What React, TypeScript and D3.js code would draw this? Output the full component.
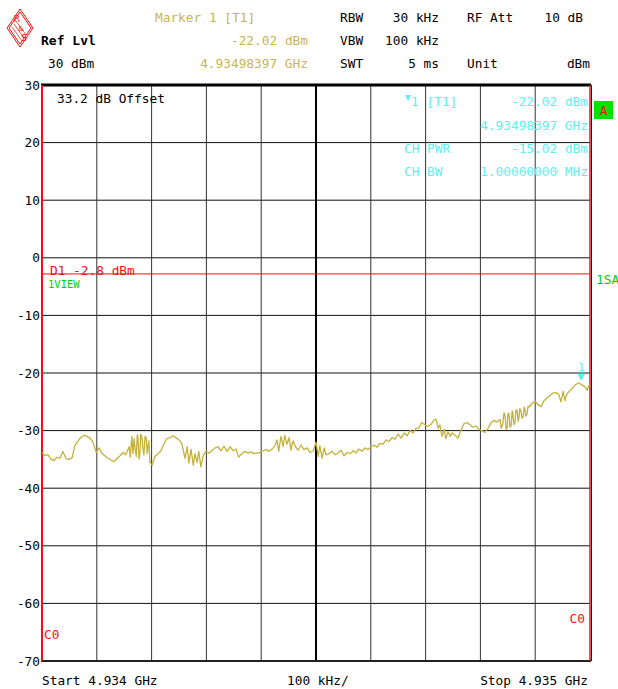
import React from "react";
import * as d3 from "d3";

// Sweep: 4.934 GHz .. 4.935 GHz, offsets in kHz from start
const spanKHz: [number, number] = [0, 1000];
const levelRange: [number, number] = [-70, 30];
const levelTicks = [30, 20, 10, 0, -10, -20, -30, -40, -50, -60, -70];
const freqDivisions = 10;

// Trace 1: [offset kHz, level dBm]
const trace: [number, number][] = [
  [0, -33.8], [5, -34.3], [11, -34.2], [16, -34.9], [22, -35.2], [27, -34.6], [33, -34.8], [38, -33.6],
  [44, -34.9], [49, -35.0], [55, -34.7], [60, -32.6], [66, -31.8], [71, -31.2], [77, -30.8], [82, -31.0],
  [88, -31.3], [93, -32.0], [99, -33.8], [104, -33.0], [109, -33.9], [115, -34.4], [120, -34.8], [126, -35.1],
  [131, -35.4], [137, -34.8], [142, -34.4], [148, -33.8], [153, -34.2], [159, -32.8], [161, -34.6], [164, -31.0],
  [166, -34.0], [168, -31.4], [170, -33.2], [172, -34.5], [174, -30.7], [175, -31.0], [177, -34.9], [179, -33.8],
  [180, -30.6], [182, -30.9], [184, -33.0], [186, -34.2], [188, -31.0], [190, -31.2], [192, -34.0], [193, -33.0],
  [195, -31.8], [197, -35.5], [201, -36.0], [206, -34.5], [212, -34.0], [217, -33.5], [223, -32.2], [228, -31.4],
  [234, -31.2], [239, -30.9], [245, -31.3], [250, -31.6], [255, -32.2], [261, -34.8], [265, -32.8], [268, -35.6],
  [272, -33.2], [276, -36.0], [279, -34.0], [283, -35.5], [286, -33.6], [290, -36.3], [294, -34.4], [299, -33.6],
  [305, -33.9], [310, -33.5], [316, -33.0], [321, -32.8], [327, -33.5], [332, -32.7], [338, -33.6], [343, -32.8],
  [349, -33.5], [354, -33.2], [359, -34.6], [365, -34.0], [370, -33.6], [376, -33.9], [381, -33.7], [387, -34.0],
  [392, -33.9], [398, -33.8], [403, -33.5], [409, -33.3], [414, -33.6], [420, -33.2], [425, -32.6], [429, -31.6],
  [432, -33.6], [436, -31.0], [440, -32.8], [443, -30.8], [447, -32.4], [451, -31.2], [454, -33.4], [458, -31.8],
  [462, -32.7], [467, -33.4], [473, -32.5], [478, -33.3], [484, -33.0], [489, -33.8], [495, -33.5], [500, -32.0],
  [504, -34.5], [507, -32.6], [511, -34.8], [515, -33.0], [518, -34.2], [524, -34.0], [529, -33.6], [535, -34.2],
  [540, -33.9], [546, -33.4], [551, -34.4], [557, -33.8], [562, -34.0], [568, -33.5], [573, -33.9], [578, -33.2],
  [584, -33.6], [589, -33.0], [595, -33.3], [600, -32.8], [606, -32.5], [611, -32.9], [617, -32.2], [622, -32.4],
  [628, -31.6], [633, -31.9], [639, -31.2], [644, -31.5], [650, -30.6], [655, -31.3], [661, -30.4], [666, -30.9],
  [672, -30.0], [677, -30.4], [682, -29.7], [688, -29.5], [693, -28.6], [699, -29.0], [704, -29.3], [710, -28.9],
  [715, -28.2], [719, -28.0], [723, -29.6], [726, -29.0], [730, -31.0], [734, -29.8], [737, -31.4], [741, -30.2],
  [745, -31.0], [748, -30.4], [754, -30.8], [759, -31.3], [765, -29.8], [770, -28.8], [776, -28.6], [781, -29.0],
  [786, -29.4], [792, -29.2], [797, -29.8], [803, -30.0], [808, -30.3], [814, -29.6], [819, -28.7], [825, -28.2],
  [830, -28.5], [836, -28.1], [838, -29.6], [841, -28.8], [843, -26.9], [845, -27.4], [847, -29.8], [849, -29.5],
  [850, -27.2], [852, -27.0], [854, -29.4], [856, -29.2], [858, -26.6], [859, -26.8], [861, -29.0], [863, -28.6],
  [865, -26.4], [867, -26.5], [869, -28.4], [870, -28.0], [872, -26.2], [874, -26.6], [876, -27.9], [878, -27.6],
  [880, -25.9], [881, -26.2], [883, -27.5], [885, -27.2], [887, -25.8], [889, -25.9], [894, -25.3], [900, -24.9],
  [905, -25.5], [911, -25.8], [916, -24.8], [922, -24.3], [927, -23.9], [932, -23.5], [938, -23.4], [943, -23.7],
  [947, -25.0], [951, -23.2], [954, -24.8], [958, -23.6], [963, -23.1], [969, -22.5], [974, -22.0], [980, -21.7],
  [984, -22.02], [991, -22.4], [995, -23.0], [998, -22.1], [1000, -22.3],
];

// Marker 1 and display line D1
const markerKHz = 983.97;
const markerDbm = -22.02;
const displayLineDbm = -2.8;

const headerLeft = [
  { text: "Marker 1 [T1]", row: 0 },
  { text: "-22.02 dBm", row: 1 },
  { text: "4.93498397 GHz", row: 2 },
];
const headerSettings = [
  { label: "RBW", value: "30 kHz", label2: "RF Att", value2: "10 dB" },
  { label: "VBW", value: "100 kHz", label2: "", value2: "" },
  { label: "SWT", value: "5 ms", label2: "Unit", value2: "dBm" },
];
const markerInfo = [
  { left: "1 [T1]", right: "-22.02 dBm" },
  { left: "", right: "4.93498397 GHz" },
  { left: "CH PWR", right: "-15.02 dBm" },
  { left: "CH BW", right: "1.00000000 MHz" },
];

const W = 618;
const H = 689;
const L = 42;
const R = 590;
const T = 85;
const B = 661;

const FONT = "'DejaVu Sans Mono', 'Liberation Mono', monospace";
const TRACE = "#c4b23a";
const GOLD = "#c8b455";
const CYAN = "#5ef0f0";
const RED = "#f01010";
const GREEN = "#00d000";

export default function App() {
  const x = d3.scaleLinear().domain(spanKHz).range([L, R]);
  const y = d3.scaleLinear().domain(levelRange).range([B, T]);
  const line = d3
    .line<[number, number]>()
    .x((d) => x(d[0]))
    .y((d) => y(d[1]));

  const vGrid = d3.range(1, freqDivisions).map((i) => (spanKHz[1] * i) / freqDivisions);
  const rowY = [17, 40, 63];
  const infoY = [101, 125, 148, 171];
  const mx = x(markerKHz);
  const my = y(markerDbm);

  return (
    <svg
      width={W}
      height={H}
      style={{ position: "absolute", left: 0, top: 0, background: "#fff" }}
      fontFamily={FONT}
      fontSize={12.8}
    >
      <rect x={0} y={0} width={W} height={H} fill="#fff" />

      {/* R&S logo */}
      <g stroke={RED} fill="none" strokeWidth={1}>
        <path d="M20,9 L33,28 L20,47 L7,28 Z" />
        <path d="M20,12 L31,28 L20,44 L9,28 Z" />
        <path d="M14,24 L24,38 M16,21 L26,35 M12,27 L22,41" strokeWidth={0.7} />
      </g>
      <g fill={RED} fontSize={9} textAnchor="middle" fontFamily="'DejaVu Sans', sans-serif">
        <text x={17} y={22}>R</text>
        <text x={21} y={31} fontSize={7}>&amp;</text>
        <text x={24} y={41}>S</text>
      </g>

      {/* Header */}
      <text x={41} y={rowY[1]} dominantBaseline="central" fill="#000" fontWeight="bold" fontSize={13}>
        Ref Lvl
      </text>
      <text x={48} y={rowY[2]} dominantBaseline="central" fill="#000">
        30 dBm
      </text>
      {headerLeft.map((h, i) => (
        <text
          key={i}
          x={h.row === 0 ? 155 : 308}
          y={rowY[h.row]}
          textAnchor={h.row === 0 ? "start" : "end"}
          dominantBaseline="central"
          fill={GOLD}
        >
          {h.text}
        </text>
      ))}
      {headerSettings.map((s, i) => (
        <g key={i} fill="#000">
          <text x={340} y={rowY[i]} dominantBaseline="central">{s.label}</text>
          <text x={439} y={rowY[i]} textAnchor="end" dominantBaseline="central">{s.value}</text>
          <text x={467} y={rowY[i]} dominantBaseline="central">{s.label2}</text>
          <text x={i === 2 ? 590 : 583} y={rowY[i]} textAnchor="end" dominantBaseline="central">
            {s.value2}
          </text>
        </g>
      ))}

      {/* Grid */}
      <g stroke="#111" strokeWidth={1}>
        {levelTicks.slice(1, -1).map((v) => (
          <line key={v} x1={L} x2={R} y1={y(v)} y2={y(v)} />
        ))}
        {vGrid.map((f) => (
          <line
            key={f}
            x1={x(f)}
            x2={x(f)}
            y1={T}
            y2={B}
            strokeWidth={f === spanKHz[1] / 2 ? 2 : 1}
            stroke={f === spanKHz[1] / 2 ? "#000" : "#333"}
          />
        ))}
      </g>

      {/* Frame */}
      <line x1={L - 1} x2={R + 1} y1={T} y2={T} stroke="#000" strokeWidth={3} />
      <line x1={L - 1} x2={R + 1} y1={B} y2={B} stroke="#222" strokeWidth={2} />
      <line x1={R + 1.5} x2={R + 1.5} y1={T} y2={B} stroke="#000" strokeWidth={1} />
      {/* Channel borders C0 */}
      <line x1={L} x2={L} y1={T} y2={B} stroke={RED} strokeWidth={2} />
      <line x1={R} x2={R} y1={T} y2={B} stroke={RED} strokeWidth={1.5} />

      {/* Y tick labels */}
      {levelTicks.map((v) => (
        <text key={v} x={40} y={y(v)} textAnchor="end" dominantBaseline="central" fill="#000">
          {v}
        </text>
      ))}

      {/* Display line D1 */}
      <line x1={L} x2={R} y1={y(displayLineDbm)} y2={y(displayLineDbm)} stroke={RED} strokeWidth={1} />
      <text x={50} y={y(displayLineDbm) - 3} dominantBaseline="central" fill={RED}>
        D1 -2.8 dBm
      </text>
      <text x={48} y={y(displayLineDbm) + 10} dominantBaseline="central" fill={GREEN} fontSize={10.5}>
        1VIEW
      </text>
      <text x={596} y={y(displayLineDbm) + 6} dominantBaseline="central" fill={GREEN}>
        1SA
      </text>

      {/* Offset note */}
      <text x={57} y={98} dominantBaseline="central" fill="#000">
        33.2 dB Offset
      </text>

      {/* Trace */}
      <path d={line(trace) ?? ""} fill="none" stroke={TRACE} strokeWidth={1.3} strokeLinejoin="round" />

      {/* Marker 1 */}
      <path d={`M${mx - 4},${my - 11} L${mx + 4},${my - 11} L${mx},${my - 4} Z`} fill={CYAN} />
      <text x={mx} y={my - 17} textAnchor="middle" dominantBaseline="central" fill={CYAN} fontSize={11}>
        1
      </text>

      {/* Marker info block */}
      <path d="M405,95 L411,95 L408,101 Z" fill={CYAN} />
      {markerInfo.map((m, i) => (
        <g key={i} fill={CYAN}>
          <text x={i === 0 ? 411 : 404} y={infoY[i]} dominantBaseline="central">
            {m.left}
          </text>
          <text x={588} y={infoY[i]} textAnchor="end" dominantBaseline="central">
            {m.right}
          </text>
        </g>
      ))}

      {/* Trace indicator */}
      <rect x={594} y={101} width={19} height={18} fill="#00e400" />
      <text x={603.5} y={110} textAnchor="middle" dominantBaseline="central" fill={RED}>
        A
      </text>

      {/* C0 labels */}
      <text x={44} y={634} dominantBaseline="central" fill={RED}>C0</text>
      <text x={585} y={618} textAnchor="end" dominantBaseline="central" fill={RED}>C0</text>

      {/* Frequency axis */}
      <text x={42} y={680} dominantBaseline="central" fill="#000">Start 4.934 GHz</text>
      <text x={287} y={680} dominantBaseline="central" fill="#000">100 kHz/</text>
      <text x={588} y={680} textAnchor="end" dominantBaseline="central" fill="#000">Stop 4.935 GHz</text>
    </svg>
  );
}
